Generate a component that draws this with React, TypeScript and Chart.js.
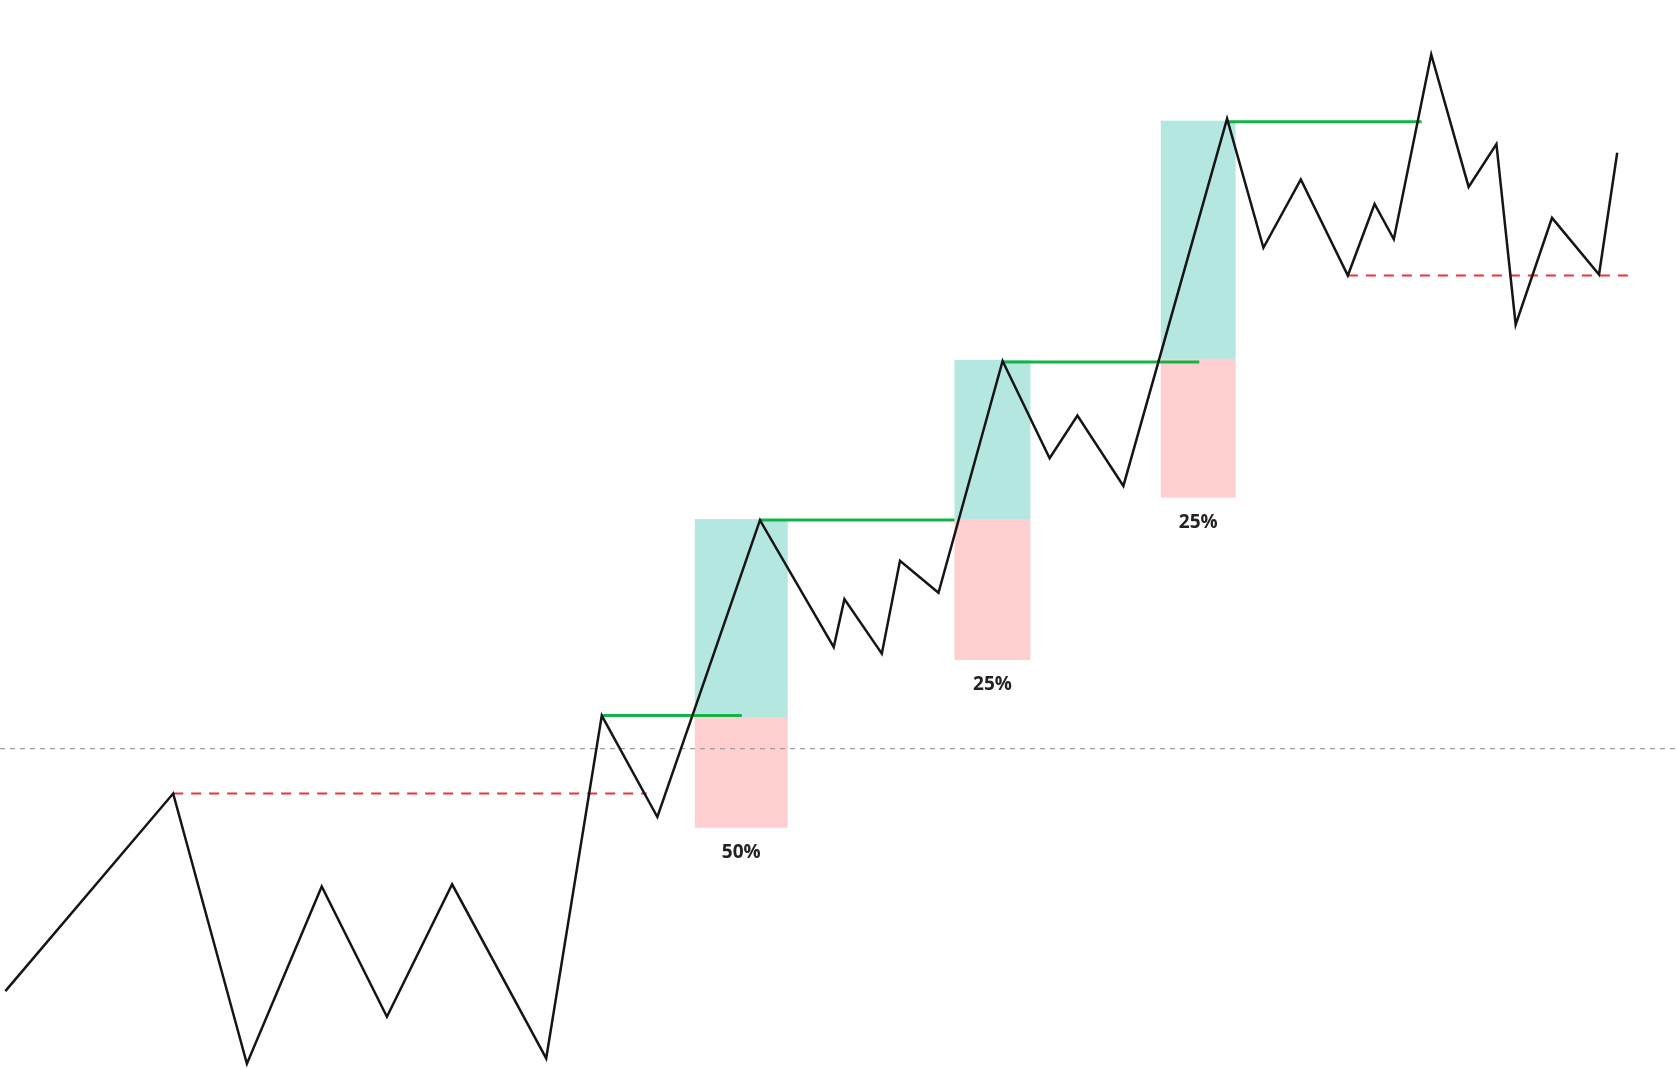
import React, { useEffect, useRef } from 'react';
import Chart from 'chart.js/auto';

// price path (x = time, y = level measured from the top)
const priceX = [5, 162, 231, 301, 362, 423, 511, 563, 615, 711, 780, 790, 825, 842, 878, 938, 982, 1008, 1051, 1148, 1182, 1217, 1261, 1286, 1304, 1339, 1374, 1400, 1418, 1452, 1496, 1513];
const priceY = [928, 743, 996, 830, 952, 828, 991, 670, 765, 487, 606, 561, 612, 525, 555, 338, 429, 389, 455, 111, 232, 168, 258, 191, 224, 51, 175, 135, 304, 204, 257, 143];

// green highs
const highStart = [563, 711, 938, 1148];
const highEnd = [694, 893, 1122, 1330];
const highLevel = [670, 487, 339, 114];

// red dashed lows
const lowStart = [162, 1261];
const lowEnd = [605, 1527];
const lowLevel = [743, 258];

const midLevel = 701;

// boxes: left, right, teal top, split, pink bottom
const boxLeft = [650, 893, 1086];
const boxRight = [737, 964, 1156];
const boxTop = [486, 337, 113];
const boxMid = [672, 486, 336];
const boxBottom = [775, 618, 466];
const boxLabels = ['50%', '25%', '25%'];

const App = () => {
  const chartRef = useRef<HTMLCanvasElement>(null);

  useEffect(() => {
    document.body.style.margin = '0';
    const segs: any[] = [];
    highStart.forEach((s, i) => segs.push({
      data: [{ x: s, y: highLevel[i] }, { x: highEnd[i], y: highLevel[i] }],
      borderColor: '#12b347', borderWidth: 3, pointRadius: 0, showLine: true, order: 1,
    }));
    lowStart.forEach((s, i) => segs.push({
      data: [{ x: s, y: lowLevel[i] }, { x: lowEnd[i], y: lowLevel[i] }],
      borderColor: '#f0303a', borderWidth: 2, borderDash: [10, 8], pointRadius: 0, showLine: true, order: 1,
    }));
    segs.push({
      data: [{ x: 0, y: midLevel }, { x: 1568, y: midLevel }],
      borderColor: '#9a9a9a', borderWidth: 1.2, borderDash: [5, 5], pointRadius: 0, showLine: true, order: 2,
    });

    const boxPlugin = {
      id: 'boxes',
      beforeDatasetsDraw(chart: any) {
        const { ctx, scales } = chart;
        const x = scales.x, y = scales.y;
        boxLeft.forEach((l, i) => {
          const px1 = x.getPixelForValue(l), px2 = x.getPixelForValue(boxRight[i]);
          const t = y.getPixelForValue(boxTop[i]), m = y.getPixelForValue(boxMid[i]), b = y.getPixelForValue(boxBottom[i]);
          ctx.fillStyle = 'rgba(120,212,200,0.55)';
          ctx.fillRect(px1, t, px2 - px1, m - t);
          ctx.fillStyle = 'rgba(255,160,160,0.5)';
          ctx.fillRect(px1, m, px2 - px1, b - m);
          ctx.fillStyle = '#222';
          ctx.font = 'bold 19px "Open Sans", sans-serif';
          ctx.textAlign = 'center';
          ctx.textBaseline = 'middle';
          ctx.fillText(boxLabels[i], (px1 + px2) / 2, b + 25);
        });
      },
    };

    const chart = new Chart(chartRef.current!, {
      type: 'scatter',
      data: {
        datasets: [
          {
            data: priceX.map((v, i) => ({ x: v, y: priceY[i] })),
            borderColor: '#151515', borderWidth: 2.5, pointRadius: 0, showLine: true, order: 0,
          },
          ...segs,
        ],
      },
      options: {
        animation: false,
        responsive: true,
        maintainAspectRatio: false,
        layout: { padding: 0 },
        scales: {
          x: { type: 'linear', min: 0, max: 1568, display: false },
          y: { type: 'linear', min: 0, max: 1000, reverse: true, display: false },
        },
        plugins: { legend: { display: false }, tooltip: { enabled: false } },
      },
      plugins: [boxPlugin],
    });
    return () => chart.destroy();
  }, []);

  return (
    <div style={{ position: 'fixed', left: 0, top: 0, width: '100vw', height: '100vh', background: '#fff' }}>
      <canvas ref={chartRef} />
    </div>
  );
};

export default App;
